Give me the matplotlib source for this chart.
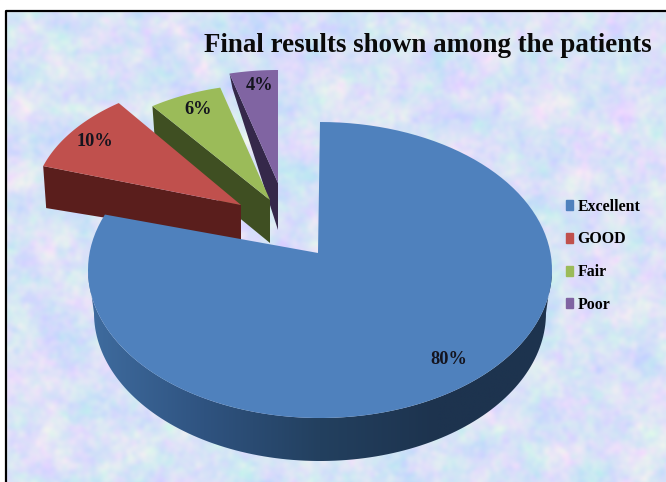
import numpy as np
from matplotlib import pyplot as plt
from matplotlib.colors import LinearSegmentedColormap
from matplotlib.patches import Patch, Polygon, Rectangle

# values
categories = ["Excellent", "GOOD", "Fair", "Poor"]
percents = [80, 10, 6, 4]
labels = ["80%", "10%", "6%", "4%"]
title = "Final results shown among the patients"

# pie geometry in pixels of the reference
top_colors = ["#4f81bd", "#c0504d", "#9bbb59", "#8064a2"]
wall_colors = [None, "#5a1e1c", "#3f4f22", "#35284a"]
apex = [(318, 253), (241, 205), (270, 200), (278, 183)]
radius_x = [232, 208, 200, 195]
radius_y = [148, 126, 116, 113]
depth_apex = [0, 35, 43, 47]
depth_outer = [0, 42, 43, 15]
label_pos = [(449, 360), (95, 142), (198, 109), (260, 85)]

plt.rcParams["font.family"] = ["Liberation Serif", "DejaVu Serif"]

fig = plt.figure(figsize=(6.66, 4.82), dpi=100)
ax = fig.add_axes([0, 0, 1, 1])
ax.set_axis_off()


def mancha(alto, ancho, sigma, seed):
    # smooth noise for the paper texture of the background
    rng = np.random.default_rng(seed)
    ruido = np.fft.fft2(rng.normal(size=(alto, ancho)))
    fy = np.fft.fftfreq(alto)[:, None]
    fx = np.fft.fftfreq(ancho)[None, :]
    suave = np.fft.ifft2(ruido * np.exp(-2 * (np.pi * sigma) ** 2 * (fx**2 + fy**2))).real
    return (suave - suave.mean()) / suave.std()


alto, ancho = 482, 666
a = mancha(alto, ancho, 9, 1) + 0.6 * mancha(alto, ancho, 2.5, 2)
b = mancha(alto, ancho, 7, 3) + 0.6 * mancha(alto, ancho, 2.5, 4)
fondo = np.zeros((alto, ancho, 3))
fondo[..., 0] = 0.85 + 0.028 * a
fondo[..., 1] = 0.89 - 0.018 * b + 0.004 * a
fondo[..., 2] = 0.97 + 0.010 * b
fondo = np.clip(fondo, 0, 1)
ax.imshow(fondo, extent=(0, 666, 482, 0), aspect="auto", zorder=0)

# white margin and black frame
ax.add_patch(Rectangle((0, 0), 666, 11, color="white", zorder=1))
ax.add_patch(Rectangle((0, 0), 6, 482, color="white", zorder=1))
ax.plot([6, 6, 666], [482, 11, 11], color="black", lw=1.6, zorder=2)


def borde(cx, cy, rx, ry, t0, t1):
    t = np.radians(np.linspace(t0, t1, 120))
    return np.column_stack([cx + rx * np.sin(t), cy - ry * np.cos(t)])


# the small slices, from the back to the front
fin = np.cumsum(percents) * 3.6
inicio = fin - np.array(percents) * 3.6
for i in [3, 2, 1]:
    ax_, ay_ = apex[i]
    arco = borde(ax_, ay_, radius_x[i], radius_y[i], inicio[i], fin[i])
    pared = [arco[0], arco[0] + [3, depth_outer[i]], (ax_, ay_ + depth_apex[i]), (ax_, ay_)]
    ax.add_patch(Polygon(pared, color=wall_colors[i], lw=0, zorder=3 + (3 - i)))
    ax.add_patch(Polygon(np.vstack([[(ax_, ay_)], arco]), color=top_colors[i], lw=0, zorder=3 + (3 - i)))

# the big slice: wall with a gradient and then the top
cx, cy = 320, 270
arriba = borde(cx, cy, radius_x[0], radius_y[0], 90, 270)
abajo = borde(cx, cy + 43, 226, radius_y[0], 90, 270)
pared = Polygon(np.vstack([arriba, abajo[::-1]]), transform=ax.transData, lw=0)
degradado = LinearSegmentedColormap.from_list("pared", ["#3f6c9f", "#2f5380", "#23405f", "#1d334e", "#1d334e"])
img = ax.imshow(np.linspace(0, 1, 256)[None, :], cmap=degradado, extent=(88, 552, 470, 270), aspect="auto", zorder=7)
img.set_clip_path(pared)

arco = borde(cx, cy, radius_x[0], radius_y[0], 0, fin[0] + 4)
ax.add_patch(Polygon(np.vstack([[apex[0]], arco]), color=top_colors[0], lw=0, zorder=8))

for texto, pos in zip(labels, label_pos):
    ax.text(pos[0], pos[1], texto, fontsize=13.2, fontweight="bold", color="#14141e",
            ha="center", va="center", zorder=9)

ax.text(428, 45, title, fontsize=19.4, fontweight="bold", color="#0a0a0a", ha="center", va="center", zorder=9)

handles = [Patch(color=c, label=n) for c, n in zip(top_colors, categories)]
leyenda = ax.legend(handles=handles, loc="upper left", bbox_to_anchor=(564 / 666, 1 - 197 / 482),
                    frameon=False, handlelength=0.45, handleheight=0.6, handletextpad=0.3,
                    labelspacing=1.06, borderpad=0.1, borderaxespad=0,
                    prop={"size": 11.4, "weight": "bold"})
leyenda.set_zorder(9)

ax.set_xlim(0, 666)
ax.set_ylim(482, 0)
fig.savefig("out.png", dpi=100)
